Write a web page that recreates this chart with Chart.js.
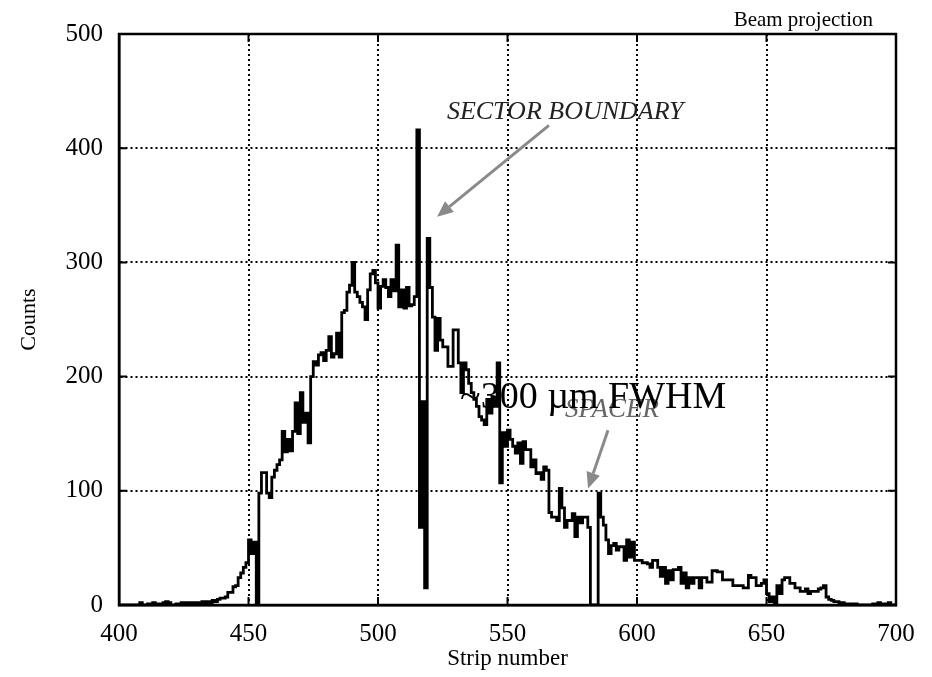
<!DOCTYPE html>
<html>
<head>
<meta charset="utf-8">
<title>Beam projection</title>
<script src="https://cdn.jsdelivr.net/npm/chart.js@4.4.1/dist/chart.umd.min.js"></script>
<style>
  html, body { margin: 0; padding: 0; background: #fff; }
  #wrap { width: 932px; height: 677px; }
</style>
</head>
<body>
<div id="wrap"><canvas id="beamchart" width="932" height="677"></canvas></div>
<script>
// strip 400 .. 699, one count per strip
var firstStrip = 400;
var counts = [
  0, 0, 0, 0, 0, 0, 0, 0, 2, 0,
  0, 1, 0, 2, 0, 1, 0, 2, 3, 2,
  0, 0, 1, 0, 2, 1, 2, 0, 2, 1,
  2, 1, 3, 1, 3, 2, 4, 3, 5, 6,
  6, 7, 11, 11, 16, 17, 24, 28, 33, 37,
  57, 45, 55, 0, 98, 116, 116, 98, 94, 112,
  118, 123, 127, 152, 134, 145, 135, 152, 177, 150,
  186, 160, 168, 142, 200, 213, 210, 219, 221, 214,
  223, 235, 217, 220, 238, 217, 256, 258, 274, 280,
  300, 274, 270, 265, 261, 250, 276, 290, 293, 282,
  260, 279, 285, 278, 270, 285, 275, 315, 261, 276,
  260, 278, 262, 263, 270, 416, 68, 178, 15, 321,
  278, 252, 223, 251, 232, 226, 226, 209, 209, 241,
  241, 212, 186, 212, 206, 194, 186, 180, 174, 165,
  162, 158, 180, 168, 182, 174, 212, 107, 151, 139,
  153, 145, 139, 133, 142, 124, 143, 136, 136, 121,
  127, 115, 116, 110, 121, 118, 81, 77, 77, 74,
  102, 85, 68, 74, 74, 80, 60, 77, 72, 77,
  77, 68, 0, 0, 0, 98, 77, 70, 57, 45,
  52, 54, 48, 51, 51, 39, 57, 42, 55, 39,
  39, 39, 37, 37, 36, 33, 39, 39, 33, 25,
  33, 19, 30, 22, 31, 31, 33, 19, 28, 15,
  24, 19, 24, 24, 15, 24, 24, 20, 20, 30,
  30, 29, 29, 22, 22, 22, 22, 17, 17, 17,
  17, 15, 15, 26, 24, 24, 17, 17, 19, 22,
  10, 3, 7, 0, 17, 10, 22, 24, 24, 19,
  19, 15, 15, 12, 12, 14, 10, 12, 12, 12,
  14, 15, 17, 7, 5, 4, 3, 3, 2, 2,
  1, 1, 1, 0, 1, 0, 0, 0, 0, 0,
  0, 1, 0, 2, 0, 1, 0, 2, 0, 0
];
var xTicks = [400, 450, 500, 550, 600, 650, 700];
var yTicks = [0, 100, 200, 300, 400, 500];

var serif = "'Liberation Serif', 'Times New Roman', serif";

// histogram points: bin i spans [strip, strip+1]
var points = counts.map(function (c, i) { return { x: firstStrip + i, y: c }; });
points.push({ x: firstStrip + counts.length, y: counts[counts.length - 1] });

function arrow(ctx, x1, y1, x2, y2) {
  var ang = Math.atan2(y2 - y1, x2 - x1);
  var hl = 16, hw = 7;
  var bx = x2 - hl * Math.cos(ang), by = y2 - hl * Math.sin(ang);
  ctx.beginPath();
  ctx.moveTo(x1, y1);
  ctx.lineTo(bx, by);
  ctx.stroke();
  ctx.beginPath();
  ctx.moveTo(x2, y2);
  ctx.lineTo(bx + hw * Math.sin(ang), by - hw * Math.cos(ang));
  ctx.lineTo(bx - hw * Math.sin(ang), by + hw * Math.cos(ang));
  ctx.closePath();
  ctx.fill();
}

var decorations = {
  id: 'decorations',
  afterDatasetsDraw: function (chart) {
    var ctx = chart.ctx, a = chart.chartArea;
    var xs = chart.scales.x, ys = chart.scales.y;
    ctx.save();

    // frame
    ctx.strokeStyle = '#000';
    ctx.lineWidth = 2.5;
    ctx.strokeRect(a.left, a.top, a.right - a.left, a.bottom - a.top);

    // small inner tick marks on all four sides
    ctx.lineWidth = 2;
    xTicks.forEach(function (v) {
      var px = xs.getPixelForValue(v);
      ctx.beginPath();
      ctx.moveTo(px, a.bottom); ctx.lineTo(px, a.bottom - 8);
      ctx.moveTo(px, a.top); ctx.lineTo(px, a.top + 8);
      ctx.stroke();
    });
    yTicks.forEach(function (v) {
      var py = ys.getPixelForValue(v);
      ctx.beginPath();
      ctx.moveTo(a.left, py); ctx.lineTo(a.left + 8, py);
      ctx.moveTo(a.right, py); ctx.lineTo(a.right - 8, py);
      ctx.stroke();
    });

    // arrows
    ctx.strokeStyle = '#8a8a8a';
    ctx.fillStyle = '#8a8a8a';
    ctx.lineWidth = 3;
    arrow(ctx, xs.getPixelForValue(566), ys.getPixelForValue(420),
               xs.getPixelForValue(522.8), ys.getPixelForValue(340));
    arrow(ctx, xs.getPixelForValue(588.8), ys.getPixelForValue(153),
               xs.getPixelForValue(581.1), ys.getPixelForValue(102));

    // labels
    ctx.textBaseline = 'alphabetic';
    ctx.textAlign = 'left';
    ctx.fillStyle = '#222';
    ctx.font = 'italic 26px ' + serif;
    ctx.fillText('SECTOR BOUNDARY', xs.getPixelForValue(526.6), ys.getPixelForValue(426));

    ctx.fillStyle = '#666';
    ctx.font = 'italic 27px ' + serif;
    ctx.fillText('SPACER', xs.getPixelForValue(572.2), ys.getPixelForValue(165));

    ctx.fillStyle = '#000';
    ctx.font = '38px ' + serif;
    ctx.fillText('~300 \u00b5m FWHM', xs.getPixelForValue(531.7), ys.getPixelForValue(172.5));

    ctx.font = '21px ' + serif;
    ctx.textAlign = 'right';
    ctx.fillText('Beam projection', a.right - 23, a.top - 8);

    ctx.restore();
  }
};

var ctx = document.getElementById('beamchart');
var beamchart = new Chart(ctx, {
  type: 'line',
  data: {
    datasets: [{
      label: 'Counts',
      data: points,
      stepped: 'before',
      borderColor: '#000',
      borderWidth: 2.8,
      pointRadius: 0,
      fill: false
    }]
  },
  options: {
    responsive: false,
    animation: false,
    layout: { padding: { top: 34, right: 36, left: 0, bottom: 0 } },
    plugins: {
      legend: { display: false },
      tooltip: { enabled: false }
    },
    scales: {
      x: {
        type: 'linear',
        min: 400,
        max: 700,
        afterFit: function (scale) { scale.height = 72; },
        afterBuildTicks: function (scale) {
          scale.ticks = xTicks.map(function (v) { return { value: v }; });
        },
        ticks: {
          color: '#000',
          padding: 14,
          maxRotation: 0,
          font: { family: serif, size: 25 }
        },
        grid: { color: '#000', lineWidth: 2, drawTicks: false },
        border: { display: true, color: '#000', width: 2.5, dash: [2, 3] },
        title: {
          display: true,
          text: 'Strip number',
          color: '#000',
          font: { family: serif, size: 23 },
          padding: { top: 0, bottom: 4 }
        }
      },
      y: {
        min: 0,
        max: 500,
        afterFit: function (scale) { scale.width = 119; },
        afterBuildTicks: function (scale) {
          scale.ticks = yTicks.map(function (v) { return { value: v }; });
        },
        ticks: {
          color: '#000',
          padding: 16,
          font: { family: serif, size: 25 }
        },
        grid: { color: '#000', lineWidth: 2, drawTicks: false },
        border: { display: true, color: '#000', width: 2.5, dash: [2, 3] },
        title: {
          display: true,
          text: 'Counts',
          color: '#000',
          font: { family: serif, size: 22 },
          padding: { top: 16, bottom: 0 }
        }
      }
    }
  },
  plugins: [decorations]
});
</script>
</body>
</html>
